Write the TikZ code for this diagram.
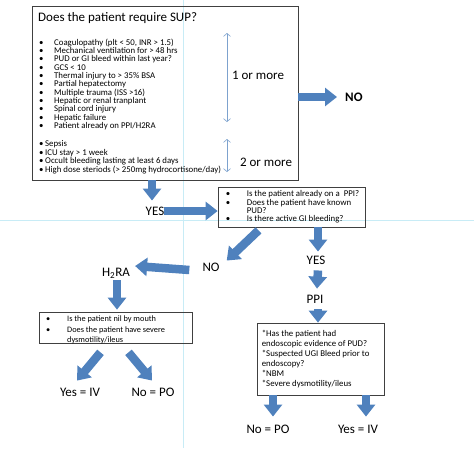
\documentclass[tikz,border=0pt]{standalone}
\usepackage{fontspec}
\setmainfont{Carlito}
\usetikzlibrary{arrows.meta,positioning}
\definecolor{arrowblue}{RGB}{79,129,189}
\definecolor{spanblue}{RGB}{125,162,206}
\definecolor{guidecyan}{RGB}{200,236,246}
\newcommand{\bul}[1]{\makebox[#1][l]{\textbullet}}
\tikzstyle{box} = [rectangle, draw=black!75, line width=0.7pt, inner sep=0pt]
\tikzstyle{crit} = [anchor=north west, align=left, inner sep=0pt,
    font=\fontsize{8.8}{8.35}\selectfont]
\tikzstyle{answer} = [inner sep=0pt, font=\fontsize{13}{15}\selectfont]
\tikzstyle{fatarrow} = [draw=arrowblue, line width=8.5pt, -{Triangle[length=12pt,width=18pt]}]
\tikzstyle{spanarrow} = [draw=spanblue, line width=0.6pt,
    {Straight Barb[length=3pt,width=7pt]}-{Straight Barb[length=3pt,width=7pt]}]

\begin{document}
\begin{tikzpicture}[x=1pt, y=-1pt]
  \useasboundingbox (0,0) rectangle (474,448);
  % guide lines
  \draw [guidecyan, line width=0.5pt] (183,0) -- (183,448);
  \draw [guidecyan, line width=0.5pt] (0,220) -- (474,220);
  % does the patient require SUP
  \node [box, minimum width=266pt, minimum height=174pt] (sup) at (165,93) {};
  \node [answer, anchor=west] (title) at (38,18) {Does the patient require SUP?};
  \node [crit] (major) at (39,38.5) {\bul{15pt}Coagulopathy (plt < 50, INR > 1.5)\\
    \bul{15pt}Mechanical ventilation for > 48 hrs\\
    \bul{15pt}PUD or GI bleed within last year?\\
    \bul{15pt}GCS < 10\\
    \bul{15pt}Thermal injury to > 35\% BSA\\
    \bul{15pt}Partial hepatectomy\\
    \bul{15pt}Multiple trauma (ISS >16)\\
    \bul{15pt}Hepatic or renal tranplant\\
    \bul{15pt}Spinal cord injury\\
    \bul{15pt}Hepatic failure\\
    \bul{15pt}Patient already on PPI/H2RA};
  \node [crit, font=\fontsize{8.8}{8.6}\selectfont] (minor) at (39,140.5) {\bul{6pt}Sepsis\\
    \bul{6pt}ICU stay > 1 week\\
    \bul{6pt}Occult bleeding lasting at least 6 days\\
    \bul{6pt}High dose steriods (> 250mg hydrocortisone/day)};
  \coordinate (onetop) at (227,33);
  \coordinate (onebot) at (227,122);
  \coordinate (twotop) at (227,139);
  \coordinate (twobot) at (227,172);
  \path [spanarrow] (onetop) -- (onebot);
  \path [spanarrow] (twotop) -- (twobot);
  \node [answer] (one) at (258,75) {1 or more};
  \node [answer] (two) at (266,162) {2 or more};
  \node [answer, font=\fontsize{13}{15}\selectfont\bfseries, anchor=west] (no) at (345,97) {NO};
  \path [fatarrow] (sup.east |- no.west) -- ([xshift=-8pt]no.west);
  \node [answer] (yes) at (155,211) {YES};
  \path [fatarrow] ([xshift=-3pt]sup.south -| yes.north) -- ([xshift=-3pt,yshift=6pt]yes.north);
  % already on PPI / known PUD / bleeding
  \node [box, minimum width=147pt, minimum height=40pt] (known) at (291.5,207) {};
  \node [crit, anchor=west, font=\fontsize{8.8}{8.4}\selectfont] (knowntext) at ([xshift=8pt]known.west)
    {\bul{21pt}Is the patient already on a\ \ PPI?\\
    \bul{21pt}Does the patient have known\\
    \hspace*{21pt}PUD?\\
    \bul{21pt}Is there active GI bleeding?};
  \path [fatarrow] (yes.east) -- (known.west |- yes.east);
  % PPI branch
  \node [answer] (yesppi) at (316,260) {YES};
  \node [answer] (ppi) at (315,299) {PPI};
  \path [fatarrow] ([xshift=2pt]known.south -| yesppi.north) -- ([xshift=2pt,yshift=4pt]yesppi.north);
  \path [fatarrow] ([xshift=2pt,yshift=-6pt]yesppi.south) -- ([xshift=2pt,yshift=6pt]ppi.north);
  \node [box, minimum width=127pt, minimum height=72pt] (ppibox) at (320.5,359) {};
  \path [fatarrow] ([xshift=3pt,yshift=-6pt]ppi.south) -- ([xshift=3pt]ppi.south |- ppibox.north);
  \node [crit, anchor=west, font=\fontsize{8.8}{10}\selectfont] (ppitext) at ([xshift=5pt]ppibox.west)
    {*Has the patient had\\
    endoscopic evidence of PUD?\\
    *Suspected UGI Bleed prior to\\
    endoscopy?\\
    *NBM\\
    *Severe dysmotility/ileus};
  \node [answer] (ppipo) at (268,429) {No = PO};
  \node [answer] (ppiiv) at (358,429) {Yes = IV};
  \path [fatarrow] ([xshift=5pt]ppibox.south -| ppipo.north) -- ([xshift=5pt,yshift=8pt]ppipo.north);
  \path [fatarrow] ([xshift=8pt]ppibox.south -| ppiiv.north) -- ([xshift=8pt,yshift=8pt]ppiiv.north);
  % H2RA branch
  \node [answer] (noh) at (211,267) {NO};
  \node [answer] (h2ra) at (116,273) {H\textsubscript{2}RA};
  \path [fatarrow] ([xshift=-33pt,yshift=-3pt]known.south) -- ([xshift=7pt,yshift=2pt]noh.north east);
  \path [fatarrow] ([xshift=-13pt,yshift=-3pt]noh.west) -- ([xshift=5pt,yshift=7pt]h2ra.east);
  \node [box, minimum width=153pt, minimum height=31pt] (nbm) at (115.5,327.5) {};
  \path [fatarrow] ([xshift=1pt,yshift=-2pt]h2ra.south) -- ([xshift=1pt,yshift=2pt]h2ra.south |- nbm.north);
  \node [crit, font=\fontsize{8.3}{10.5}\selectfont] (nbmtext) at (46,316)
    {\bul{21pt}Is the patient nil by mouth\\
    \bul{21pt}Does the patient have severe\\
    \hspace*{21pt}dysmotility/ileus};
  \node [answer] (h2iv) at (80,392) {Yes = IV};
  \node [answer] (h2po) at (153,392) {No = PO};
  \path [fatarrow] ([xshift=-15pt,yshift=-9pt]nbm.south) -- ([xshift=-3pt,yshift=7pt]h2iv.north);
  \path [fatarrow] ([xshift=13pt,yshift=-9pt]nbm.south) -- ([xshift=-1pt,yshift=7pt]h2po.north);
\end{tikzpicture}
\end{document}
